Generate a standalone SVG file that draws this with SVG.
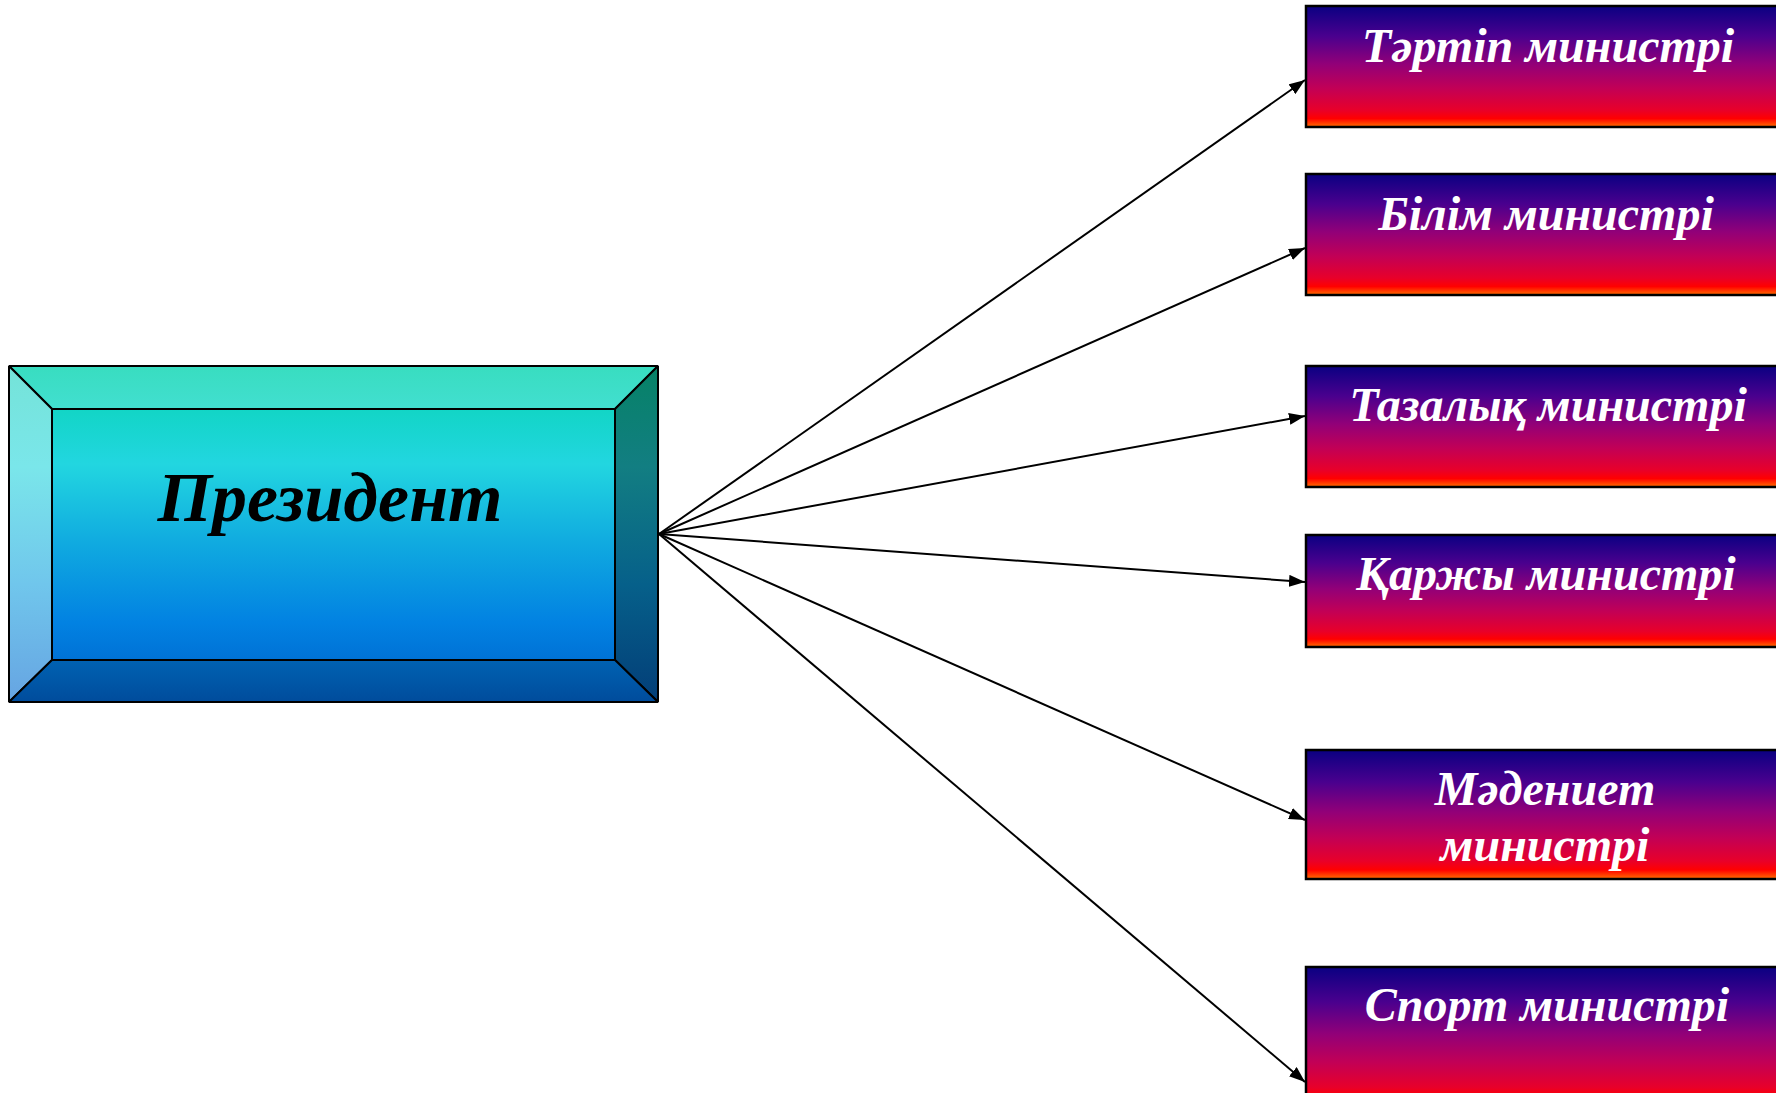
<svg xmlns="http://www.w3.org/2000/svg" width="1776" height="1093" viewBox="0 0 1776 1093">
  <defs>
    <linearGradient id="gInner" x1="0" y1="0" x2="0" y2="1">
      <stop offset="0" stop-color="#12d5c6"/>
      <stop offset="0.22" stop-color="#22d6e0"/>
      <stop offset="0.55" stop-color="#0fa8e0"/>
      <stop offset="0.85" stop-color="#0282e2"/>
      <stop offset="1" stop-color="#0072d6"/>
    </linearGradient>
    <linearGradient id="gTop" x1="0" y1="0" x2="0" y2="1">
      <stop offset="0" stop-color="#38ddc0"/>
      <stop offset="1" stop-color="#42dfd0"/>
    </linearGradient>
    <linearGradient id="gLeft" x1="0" y1="0" x2="0" y2="1">
      <stop offset="0" stop-color="#74e3d8"/>
      <stop offset="0.3" stop-color="#7ae6ea"/>
      <stop offset="0.65" stop-color="#70c6ec"/>
      <stop offset="1" stop-color="#66a4e2"/>
    </linearGradient>
    <linearGradient id="gRight" x1="0" y1="0" x2="0" y2="1">
      <stop offset="0" stop-color="#068266"/>
      <stop offset="0.3" stop-color="#127e82"/>
      <stop offset="0.65" stop-color="#06608a"/>
      <stop offset="1" stop-color="#033e78"/>
    </linearGradient>
    <linearGradient id="gBottom" x1="0" y1="0" x2="0" y2="1">
      <stop offset="0" stop-color="#0062b2"/>
      <stop offset="1" stop-color="#004c9c"/>
    </linearGradient>
    <linearGradient id="gMin" x1="0" y1="0" x2="0" y2="1">
      <stop offset="0" stop-color="#0a0082"/>
      <stop offset="0.25" stop-color="#4a008e"/>
      <stop offset="0.48" stop-color="#920078"/>
      <stop offset="0.68" stop-color="#c20056"/>
      <stop offset="0.86" stop-color="#e8002a"/>
      <stop offset="0.93" stop-color="#ff0000"/>
      <stop offset="1" stop-color="#ff7000"/>
    </linearGradient>
    <marker id="arr" viewBox="0 0 16 12" refX="16" refY="6" markerWidth="16" markerHeight="12" markerUnits="userSpaceOnUse" orient="auto">
      <path d="M0,0 L16,6 L0,12 Z" fill="#000"/>
    </marker>
  </defs>
  <style>
    .bev { stroke: #000; stroke-width: 2; stroke-linejoin: bevel; }
    .min { fill: url(#gMin); stroke: #000; stroke-width: 2.5; }
    .mt { font-family: "Liberation Serif", "Times New Roman", serif; font-weight: bold; font-style: italic; font-size: 48px; fill: #fff; text-anchor: middle; }
    .pt { font-family: "Liberation Serif", "Times New Roman", serif; font-weight: bold; font-style: italic; font-size: 70px; fill: #000; text-anchor: middle; }
    .conn { stroke: #000; stroke-width: 2; fill: none; marker-end: url(#arr); }
  </style>

  <g id="connectors">
    <line class="conn" x1="659" y1="534" x2="1305" y2="80"/>
    <line class="conn" x1="659" y1="534" x2="1305" y2="248"/>
    <line class="conn" x1="659" y1="534" x2="1305" y2="416"/>
    <line class="conn" x1="659" y1="534" x2="1305" y2="582"/>
    <line class="conn" x1="659" y1="534" x2="1305" y2="820"/>
    <line class="conn" x1="659" y1="534" x2="1305" y2="1082"/>
  </g>

  <g id="president">
    <polygon class="bev" points="9,366 658,366 615,409 52,409" fill="url(#gTop)"/>
    <polygon class="bev" points="9,366 52,409 52,660 9,702" fill="url(#gLeft)"/>
    <polygon class="bev" points="658,366 658,702 615,660 615,409" fill="url(#gRight)"/>
    <polygon class="bev" points="9,702 52,660 615,660 658,702" fill="url(#gBottom)"/>
    <rect class="bev" x="52" y="409" width="563" height="251" fill="url(#gInner)"/>
    <text class="pt" x="330" y="521">Президент</text>
  </g>

  <g id="min-tartip">
    <rect class="min" x="1306" y="6" width="482" height="121"/>
    <text class="mt" x="1548" y="62">Тәртіп министрі</text>
  </g>
  <g id="min-bilim">
    <rect class="min" x="1306" y="174" width="482" height="121"/>
    <text class="mt" x="1546" y="230">Білім министрі</text>
  </g>
  <g id="min-tazalyk">
    <rect class="min" x="1306" y="366" width="482" height="121"/>
    <text class="mt" x="1548" y="421">Тазалық министрі</text>
  </g>
  <g id="min-karzhy">
    <rect class="min" x="1306" y="535" width="482" height="112"/>
    <text class="mt" x="1546" y="590">Қаржы министрі</text>
  </g>
  <g id="min-madeniet">
    <rect class="min" x="1306" y="750" width="482" height="129"/>
    <text class="mt" x="1545" y="805">Мәдениет</text>
    <text class="mt" x="1545" y="861">министрі</text>
  </g>
  <g id="min-sport">
    <rect class="min" x="1306" y="967" width="482" height="140"/>
    <text class="mt" x="1547" y="1021">Спорт министрі</text>
  </g>
</svg>
